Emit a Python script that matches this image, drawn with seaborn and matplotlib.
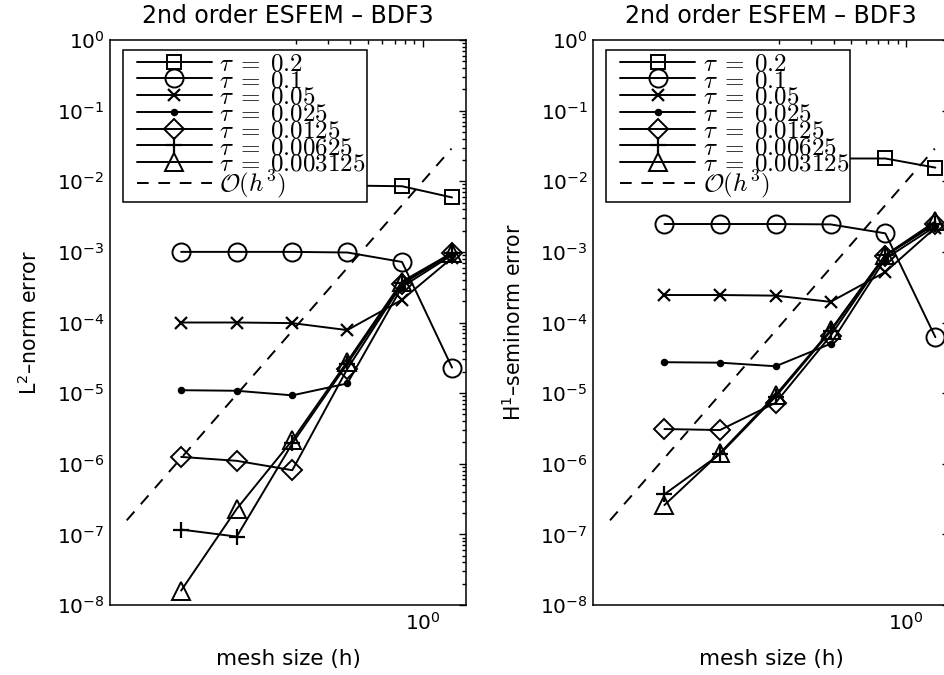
import numpy as np
import pandas as pd
import matplotlib
matplotlib.use("Agg")
import matplotlib.pyplot as plt
import matplotlib.ticker as mticker
from matplotlib.legend_handler import HandlerLine2D
import seaborn as sns

# ---------------- data ----------------
h = [0.047, 0.095, 0.192, 0.385, 0.77, 1.45]
tau_labels = [r"$\tau\;=\;0.2$", r"$\tau\;=\;0.1$", r"$\tau\;=\;0.05$", r"$\tau\;=\;0.025$",
              r"$\tau\;=\;0.0125$", r"$\tau\;=\;0.00625$", r"$\tau\;=\;0.003125\;$"]
ref_label = r"$\mathcal{O}(h^3)$"

# L2-norm error
l2_tau_0_2 = [8.8e-3, 8.8e-3, 8.8e-3, 8.7e-3, 8.5e-3, 5.9e-3]
l2_tau_0_1 = [1.0e-3, 1.0e-3, 1.0e-3, 9.8e-4, 7.2e-4, 2.3e-5]
l2_tau_0_05 = [1.0e-4, 1.0e-4, 9.8e-5, 7.8e-5, 2.1e-4, 8.2e-4]
l2_tau_0_025 = [1.1e-5, 1.08e-5, 9.3e-6, 1.37e-5, 3.2e-4, 9.0e-4]
l2_tau_0_0125 = [1.25e-6, 1.1e-6, 8.1e-7, 2.2e-5, 3.5e-4, 9.5e-4]
l2_tau_0_00625 = [1.17e-7, 9.3e-8, 1.94e-6, 2.6e-5, 3.6e-4, 9.5e-4]
l2_tau_0_003125 = [1.6e-8, 2.3e-7, 2.15e-6, 2.8e-5, 3.8e-4, 9.7e-4]

# H1-seminorm error
h1_tau_0_2 = [2.1e-2, 2.1e-2, 2.1e-2, 2.1e-2, 2.1e-2, 1.56e-2]
h1_tau_0_1 = [2.48e-3, 2.48e-3, 2.48e-3, 2.45e-3, 1.83e-3, 6.2e-5]
h1_tau_0_05 = [2.45e-4, 2.45e-4, 2.4e-4, 1.96e-4, 5.2e-4, 2.2e-3]
h1_tau_0_025 = [2.74e-5, 2.7e-5, 2.4e-5, 5.0e-5, 8.0e-4, 2.3e-3]
h1_tau_0_0125 = [3.1e-6, 3.0e-6, 7.3e-6, 6.5e-5, 8.8e-4, 2.5e-3]
h1_tau_0_00625 = [3.7e-7, 1.37e-6, 8.9e-6, 7.5e-5, 9.0e-4, 2.5e-3]
h1_tau_0_003125 = [2.6e-7, 1.42e-6, 9.4e-6, 7.8e-5, 9.0e-4, 2.7e-3]

# O(h^3) reference line endpoints
ref_h = [0.0236, 1.44]
ref_err = [1.58e-7, 2.9e-2]

panel_titles = ["2nd order ESFEM \u2013 BDF3", "2nd order ESFEM \u2013 BDF3"]
ylabels = [r"$\mathregular{L^2}$" + "\u2013norm error",
           r"$\mathregular{H^1}$" + "\u2013seminorm error"]
xlabel = "mesh size (h)"

l2_series = [l2_tau_0_2, l2_tau_0_1, l2_tau_0_05, l2_tau_0_025,
             l2_tau_0_0125, l2_tau_0_00625, l2_tau_0_003125]
h1_series = [h1_tau_0_2, h1_tau_0_1, h1_tau_0_05, h1_tau_0_025,
             h1_tau_0_0125, h1_tau_0_00625, h1_tau_0_003125]

# ---------------- style ----------------
sns.set_style("white")
plt.rcParams["font.family"] = ["DejaVu Sans"]
plt.rcParams["mathtext.fontset"] = "cm"
plt.rcParams["axes.linewidth"] = 1.1
for k in ["text.color", "axes.labelcolor", "xtick.color", "ytick.color", "axes.edgecolor"]:
    plt.rcParams[k] = "k"


class ShiftedLineHandler(HandlerLine2D):
    """Legend line handle drawn with an extra left inset (MATLAB-like legend)."""

    def __init__(self, shift, **kw):
        super().__init__(**kw)
        self.shift = shift

    def get_xdata(self, legend, xdescent, ydescent, width, height, fontsize):
        x0 = -xdescent + self.shift
        x1 = -xdescent + width
        return np.array([x0, x1]), np.array([0.5 * (x0 + x1)])


marker_styles = [
    dict(marker="s", markersize=10),
    dict(marker="o", markersize=13),
    dict(marker="x", markersize=8, markeredgewidth=1.6),
    dict(marker=".", markersize=8),
    dict(marker="D", markersize=10),
    dict(marker="+", markersize=12, markeredgewidth=1.6),
    dict(marker="^", markersize=13),
]

fig = plt.figure(figsize=(9.45, 6.75), dpi=100)
ax_w = 356 / 945
ax_h = 565 / 675
ax_b = 70 / 675
axes = [fig.add_axes([110 / 945, ax_b, ax_w, ax_h]),
        fig.add_axes([593.3 / 945, ax_b, ax_w, ax_h])]

leg_fs = 18
for ax, series, title, ylab in zip(axes, [l2_series, h1_series], panel_titles, ylabels):
    handles = []
    for vals, ms in zip(series, marker_styles):
        df = pd.DataFrame({"h": h, "err": vals})
        kw = dict(ms)
        kw.setdefault("markeredgewidth", 1.4)
        mfc = "k" if kw["marker"] == "." else "none"
        sns.lineplot(data=df, x="h", y="err", ax=ax, color="k", linewidth=1.4,
                     markerfacecolor=mfc, markeredgecolor="k",
                     estimator=None, sort=False, legend=False, **kw)
        handles.append(ax.get_lines()[-1])
    dref = pd.DataFrame({"h": ref_h, "err": ref_err})
    sns.lineplot(data=dref, x="h", y="err", ax=ax, color="k", linewidth=1.4,
                 linestyle=(0, (6, 5)), estimator=None, sort=False, legend=False)
    handles.append(ax.get_lines()[-1])

    ax.set_xscale("log")
    ax.set_yscale("log")
    ax.set_xlim(0.0191, 1.73)
    ax.set_ylim(1e-8, 1e0)

    ax.xaxis.set_major_locator(mticker.FixedLocator([1.0]))
    ax.xaxis.set_minor_locator(mticker.FixedLocator([0.2, 0.3, 0.4, 0.5, 0.6, 0.7, 0.8, 0.9]))
    ax.xaxis.set_major_formatter(mticker.FuncFormatter(
        lambda v, p: r"$\mathregular{10^{%d}}$" % int(round(np.log10(v)))))
    ax.xaxis.set_minor_formatter(mticker.NullFormatter())
    ax.yaxis.set_major_locator(mticker.LogLocator(base=10, numticks=20))
    ax.yaxis.set_minor_locator(mticker.LogLocator(base=10, subs=np.arange(2, 10), numticks=20))
    ax.yaxis.set_major_formatter(mticker.FuncFormatter(
        lambda v, p: r"$\mathregular{10^{%d}}$" % int(round(np.log10(v)))))
    ax.yaxis.set_minor_formatter(mticker.NullFormatter())

    ax.tick_params(which="both", direction="in", top=True, right=True,
                   labelsize=14.5, width=1.0, color="k")
    ax.tick_params(which="major", length=5)
    ax.tick_params(which="minor", length=3)
    ax.tick_params(axis="x", which="major", pad=5)
    ax.tick_params(axis="y", which="major", pad=4)

    ax.set_title(title, fontsize=17, pad=12)
    ax.set_xlabel(xlabel, fontsize=15.5, labelpad=11)
    ax.set_ylabel(ylab, fontsize=14.8, labelpad=11)

    shift_pt = 9.0
    hmap = {hd: ShiftedLineHandler(shift_pt) for hd in handles}
    leg = ax.legend(handles, tau_labels + [ref_label], loc="upper left",
                    bbox_to_anchor=(0.0365, 0.982), borderaxespad=0,
                    fontsize=leg_fs, frameon=True, fancybox=False, framealpha=1,
                    edgecolor="k", handlelength=(shift_pt + 54) / leg_fs,
                    handletextpad=0.3, labelspacing=-0.29, borderpad=0.05,
                    handler_map=hmap)
    leg.get_frame().set_linewidth(1.1)
    leg.set_zorder(10)

fig.savefig("out.png", dpi=100)
